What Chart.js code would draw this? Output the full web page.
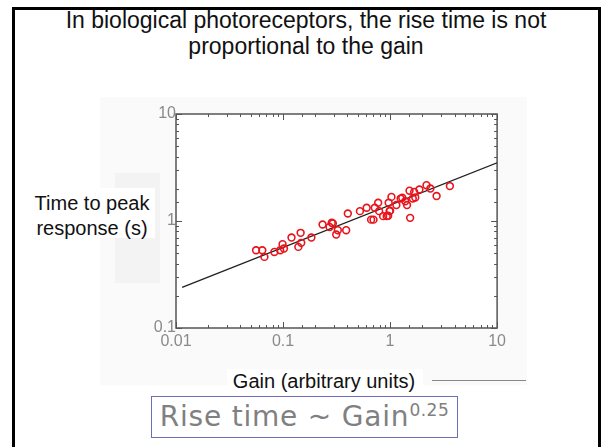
<!DOCTYPE html>
<html>
<head>
<meta charset="utf-8">
<script src="https://cdn.jsdelivr.net/npm/chart.js@4/dist/chart.umd.min.js"></script>
<style>
  html, body { margin: 0; padding: 0; background: #fff; }
  body { width: 604px; height: 447px; position: relative; overflow: hidden; font-family: "Liberation Sans", Arial, sans-serif; }
  .abs { position: absolute; }
  #frame { left: 12px; top: 7px; width: 583px; height: 460px; border: 3px solid #000; }
  #title { left: 0; width: 612px; top: 7px; text-align: center; font-size: 23px; line-height: 26px; color: #111; }
  #panel { left: 100px; top: 97px; width: 427px; height: 288px; background: #fafafa; }
  #ystrip { left: 115px; top: 173px; width: 45px; height: 110px; background: #f3f3f3; }
  #ybox { left: 33px; top: 188px; width: 122px; height: 50px; background: #fff; }
  #ylabel { left: 28px; width: 128px; top: 191px; text-align: center; font-size: 20px; line-height: 25px; color: #111; }
  #xbox { left: 227px; top: 369px; width: 196px; height: 24px; background: #fff; }
  #xlabel { left: 214px; width: 220px; top: 370px; text-align: center; font-size: 20px; line-height: 22px; color: #111; }
  #xrule { left: 432px; top: 380px; width: 94px; height: 0; border-top: 1px solid #888; }
  #formula { left: 151px; top: 396px; width: 305px; height: 40px; border: 1px solid #6c6cb8; color: #808080;
             font-family: "DejaVu Sans", Verdana, sans-serif; font-size: 28px; letter-spacing: 0.8px; line-height: 40px; text-align: center; }
  #formula sup { font-size: 17px; letter-spacing: 0.5px; vertical-align: 10px; line-height: 0; }
  #chart { left: 140px; top: 104px; }
</style>
</head>
<body>
<div id="panel" class="abs"></div>
<div id="ystrip" class="abs"></div>
<div id="ybox" class="abs"></div>
<div id="xbox" class="abs"></div>
<div id="frame" class="abs"></div>
<div id="title" class="abs">In biological photoreceptors, the rise time is not<br>proportional to the gain</div>
<div id="ylabel" class="abs">Time to peak<br>response (s)</div>
<div id="xlabel" class="abs">Gain (arbitrary units)</div>
<div id="xrule" class="abs"></div>
<div id="formula" class="abs">Rise time ~ Gain<sup>0.25</sup></div>
<canvas id="chart" class="abs" width="370" height="244"></canvas>

<script>
"use strict";

const gain = [0.056, 0.064, 0.067, 0.083, 0.094, 0.099, 0.102, 0.12, 0.139, 0.146,
              0.148, 0.184, 0.234, 0.272, 0.285, 0.292, 0.314, 0.325, 0.389, 0.403,
              0.523, 0.604, 0.665, 0.70, 0.72, 0.774, 0.79, 0.861, 0.93, 0.96,
              0.97, 0.99, 1.0, 1.03, 1.145, 1.256, 1.30, 1.387, 1.44, 1.52,
              1.54, 1.63, 1.68, 1.72, 1.88, 2.19, 2.38, 2.72, 3.62];
const peakTime = [0.533, 0.533, 0.462, 0.514, 0.533, 0.607, 0.553, 0.70, 0.573, 0.775,
                  0.625, 0.70, 0.927, 0.88, 0.962, 0.95, 0.747, 0.82, 0.82, 1.175,
                  1.236, 1.33, 1.03, 1.03, 1.33, 1.48, 1.236, 1.11, 1.11, 1.12,
                  1.48, 1.236, 1.25, 1.68, 1.41, 1.62, 1.65, 1.53, 1.41, 1.92,
                  1.07, 1.62, 1.87, 1.66, 1.97, 2.16, 2.01, 1.71, 2.12];

// fitted power-law line, two ends
const fitGain = [0.0114, 10];
const fitTime = [0.24, 3.5];

// axis ranges and labelled decades
const xRange = [0.01, 10];
const yRange = [0.1, 10];
const xTickLabels = ["0.01", "0.1", "1", "10"];
const yTickLabels = ["0.1", "1", "10"];

function isDecade(v) {
    const l = Math.log10(v);
    return Math.abs(l - Math.round(l)) < 1e-6;
}

function decadeLabel(v, labels, min) {
    if (!isDecade(v)) return "";
    const i = Math.round(Math.log10(v) - Math.log10(min));
    return labels[i] !== undefined ? labels[i] : "";
}

/* box around the plot with small inward ticks on every side */
const frameTicks = {
    id: "frameTicks",
    beforeDraw(chart) {
        const { ctx, chartArea: a } = chart;
        ctx.save();
        ctx.fillStyle = "#fff";
        ctx.fillRect(a.left, a.top, a.right - a.left, a.bottom - a.top);
        ctx.restore();
    },
    beforeDatasetsDraw(chart) {
        const { ctx, chartArea: a, scales } = chart;
        ctx.save();
        ctx.strokeStyle = "#555";
        ctx.lineWidth = 1;
        ctx.beginPath();
        scales.x.ticks.forEach(t => {
            const px = Math.round(scales.x.getPixelForValue(t.value)) + 0.5;
            const len = isDecade(t.value) ? 6 : 3;
            ctx.moveTo(px, a.bottom); ctx.lineTo(px, a.bottom - len);
            ctx.moveTo(px, a.top); ctx.lineTo(px, a.top + len);
        });
        scales.y.ticks.forEach(t => {
            const py = Math.round(scales.y.getPixelForValue(t.value)) + 0.5;
            const len = isDecade(t.value) ? 6 : 3;
            ctx.moveTo(a.left, py); ctx.lineTo(a.left + len, py);
            ctx.moveTo(a.right, py); ctx.lineTo(a.right - len, py);
        });
        ctx.stroke();
        ctx.lineWidth = 1.5;
        ctx.strokeRect(a.left, a.top, a.right - a.left, a.bottom - a.top);
        ctx.restore();
    }
};

const points = gain.map((g, i) => ({ x: g, y: peakTime[i] }));
const fit = fitGain.map((g, i) => ({ x: g, y: fitTime[i] }));

new Chart(document.getElementById("chart"), {
    type: "scatter",
    data: {
        datasets: [
            {
                data: points,
                pointStyle: "circle",
                pointRadius: 3.4,
                pointBorderWidth: 1.6,
                borderColor: "#e8141c",
                backgroundColor: "rgba(0,0,0,0)"
            },
            {
                type: "line",
                data: fit,
                borderColor: "#222",
                borderWidth: 1.4,
                pointRadius: 0,
                fill: false
            }
        ]
    },
    options: {
        responsive: false,
        animation: false,
        layout: { padding: { top: 10, right: 10, left: 0, bottom: 0 } },
        plugins: { legend: { display: false }, tooltip: { enabled: false } },
        scales: {
            x: {
                type: "logarithmic",
                min: xRange[0],
                max: xRange[1],
                grid: { display: false, drawTicks: false },
                border: { display: false },
                afterFit(scale) { scale.height = 20; },
                ticks: {
                    autoSkip: false,
                    maxRotation: 0,
                    padding: 4,
                    color: "#8a8a8a",
                    font: { family: "Liberation Sans", size: 16 },
                    callback: v => decadeLabel(v, xTickLabels, xRange[0])
                }
            },
            y: {
                type: "logarithmic",
                min: yRange[0],
                max: yRange[1],
                grid: { display: false, drawTicks: false },
                border: { display: false },
                afterFit(scale) { scale.width = 36; },
                ticks: {
                    autoSkip: false,
                    padding: 0,
                    color: "#8a8a8a",
                    font: { family: "Liberation Sans", size: 16 },
                    callback: v => decadeLabel(v, yTickLabels, yRange[0])
                }
            }
        }
    },
    plugins: [frameTicks]
});
</script>
</body>
</html>
